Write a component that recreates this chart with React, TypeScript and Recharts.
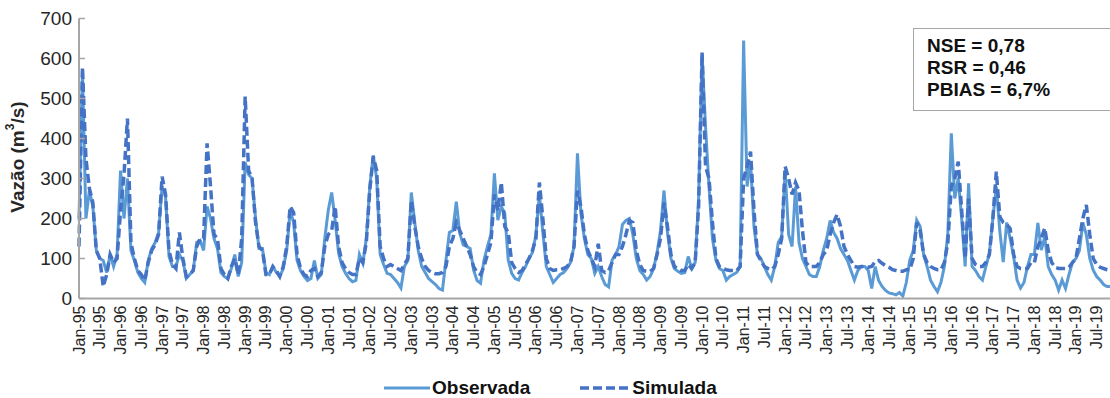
import { LineChart, Line, XAxis, YAxis } from 'recharts';

const monthNames = ['Jan', 'Feb', 'Mar', 'Apr', 'May', 'Jun', 'Jul', 'Aug', 'Sep', 'Oct', 'Nov', 'Dec'];
const years = ['95', '96', '97', '98', '99', '00', '01', '02', '03', '04', '05', '06', '07',
  '08', '09', '10', '11', '12', '13', '14', '15', '16', '17', '18', '19'];

// monthly flow (m3/s), one row per year, Jan..Dec
const observada = [
  200, 570, 200, 270, 230, 120, 100, 95, 65, 110, 80, 110, // 95
  320, 200, 300, 120, 95, 65, 50, 40, 95, 125, 140, 165,
  280, 255, 105, 80, 80, 110, 95, 50, 60, 70, 140, 145,
  120, 230, 200, 150, 125, 65, 55, 50, 75, 110, 55, 90,
  340, 310, 300, 200, 125, 125, 65, 60, 80, 65, 55, 75,
  120, 220, 190, 95, 70, 55, 45, 50, 95, 50, 60, 150, // 00
  220, 265, 195, 113, 80, 63, 50, 42, 45, 110, 88, 150,
  280, 358, 300, 110, 85, 63, 60, 50, 40, 26, 80, 95,
  265, 190, 120, 80, 65, 50, 42, 35, 25, 21, 95, 165,
  170, 242, 163, 134, 130, 125, 71, 45, 38, 96, 130, 160,
  313, 196, 230, 213, 96, 63, 50, 46, 65, 80, 100, 115, // 05
  160, 260, 165, 80, 60, 40, 50, 60, 65, 75, 90, 130,
  363, 213, 150, 110, 100, 63, 80, 55, 35, 29, 96, 110,
  130, 185, 195, 200, 160, 100, 70, 60, 46, 55, 75, 115,
  170, 270, 165, 100, 75, 68, 63, 65, 105, 75, 90, 250,
  610, 430, 280, 150, 96, 75, 70, 46, 55, 60, 65, 80, // 10
  645, 280, 340, 180, 110, 100, 80, 60, 46, 80, 140, 155,
  320, 160, 130, 280, 140, 100, 80, 60, 55, 55, 80, 120,
  150, 195, 165, 150, 125, 110, 95, 70, 46, 70, 80, 80,
  70, 25, 80, 45, 30, 20, 14, 12, 9, 15, 6, 40,
  96, 120, 196, 180, 110, 80, 46, 30, 17, 40, 80, 163, // 15
  413, 250, 300, 200, 80, 288, 80, 70, 55, 46, 80, 113,
  200, 280, 170, 91, 190, 150, 105, 46, 26, 40, 80, 110,
  110, 189, 121, 154, 80, 60, 46, 21, 46, 25, 60, 90,
  100, 120, 190, 160, 100, 71, 55, 46, 35, 30, 30, 30,
];

const simulada = [
  130, 578, 350, 275, 240, 120, 100, 30, 60, 110, 90, 100, // 95
  220, 310, 450, 140, 100, 70, 60, 45, 90, 120, 135, 160,
  305, 260, 120, 85, 75, 165, 100, 55, 60, 70, 130, 150,
  150, 388, 280, 160, 150, 75, 60, 50, 80, 100, 60, 150,
  505, 320, 300, 190, 130, 120, 60, 60, 80, 70, 55, 80,
  130, 230, 215, 110, 75, 60, 55, 70, 75, 55, 65, 130, // 00
  160, 170, 230, 130, 90, 75, 65, 60, 60, 100, 90, 140,
  270, 355, 320, 130, 100, 80, 85, 80, 75, 70, 85, 100,
  245, 180, 130, 100, 80, 70, 65, 62, 62, 65, 80, 130,
  150, 190, 170, 150, 130, 110, 80, 65, 60, 80, 110, 140,
  260, 220, 290, 180, 165, 90, 75, 65, 70, 85, 100, 120, // 05
  150, 290, 200, 100, 75, 70, 72, 72, 75, 80, 90, 130,
  270, 230, 160, 120, 100, 80, 137, 70, 65, 70, 90, 110,
  110, 130, 160, 195, 190, 120, 85, 70, 68, 68, 75, 110,
  150, 240, 180, 110, 80, 75, 70, 70, 85, 75, 90, 230,
  615, 330, 300, 190, 100, 80, 75, 72, 70, 70, 70, 80, // 10
  300, 330, 367, 220, 110, 95, 80, 75, 72, 80, 110, 150,
  330, 300, 260, 290, 270, 170, 90, 80, 80, 80, 90, 110,
  120, 160, 190, 210, 180, 130, 110, 95, 80, 78, 80, 80,
  78, 80, 92, 95, 88, 82, 78, 72, 70, 68, 68, 72,
  72, 100, 190, 170, 110, 90, 80, 75, 72, 72, 90, 140, // 15
  280, 300, 342, 220, 100, 250, 100, 85, 80, 80, 90, 110,
  200, 317, 205, 190, 185, 175, 110, 80, 75, 75, 75, 90,
  90, 130, 150, 176, 120, 90, 78, 75, 75, 75, 78, 90,
  100, 150, 200, 234, 160, 100, 85, 78, 75, 72, 70, 70,
];

const yTicks = [0, 100, 200, 300, 400, 500, 600, 700];

const categories = years.flatMap((y) => monthNames.map((m) => `${m}-${y}`));
const data = categories.map((mes, i) => ({ mes, observada: observada[i], simulada: simulada[i] }));

const FONT = '"Liberation Sans", Arial, sans-serif';
const AXIS = '#a6a6a6';

const YTick = ({ x, y, payload }: any) => (
  <g>
    <line x1={x} x2={x + 6} y1={y} y2={y} stroke={AXIS} strokeWidth={1.5} />
    <text x={x - 7} y={y} textAnchor="end" dominantBaseline="central" fontSize={19} fill="#262626" fontFamily={FONT}>
      {payload.value}
    </text>
  </g>
);

const XTick = ({ x, y, payload }: any) => (
  <g transform={`translate(${x},${y + 7})`}>
    <text transform="rotate(-90)" textAnchor="end" dominantBaseline="central" fontSize={16} fill="#262626" fontFamily={FONT}>
      {payload.value}
    </text>
  </g>
);

export default function App() {
  return (
    <div style={{ position: 'absolute', left: 0, top: 0, width: 1110, height: 398, overflow: 'hidden', background: '#fff' }}>
      <LineChart width={1130} height={398} data={data} margin={{ top: 18.5, right: 16, left: 0, bottom: 0 }}>
        <XAxis
          dataKey="mes"
          interval={5}
          height={99.5}
          tickLine={false}
          tickSize={0}
          tickMargin={0}
          tick={<XTick />}
          stroke={AXIS}
          strokeWidth={2}
        />
        <XAxis xAxisId="top" dataKey="mes" orientation="top" height={0} tick={false} tickLine={false} stroke={AXIS} strokeWidth={2} />
        <YAxis
          domain={[0, 700]}
          ticks={yTicks}
          width={79}
          tickLine={false}
          tickSize={0}
          tickMargin={0}
          tick={<YTick />}
          stroke={AXIS}
          strokeWidth={2}
          label={{
            content: () => (
              <text x={17} y={157} transform="rotate(-90 17 157)" textAnchor="middle" dominantBaseline="central"
                fontSize={19} fontWeight="bold" fill="#262626" fontFamily={FONT}>
                Vazão (m<tspan fontSize={12} dy={-7}>3</tspan><tspan dy={7}>/s)</tspan>
              </text>
            ),
          }}
        />
        <Line type="linear" dataKey="observada" stroke="#5b9bd5" strokeWidth={3} dot={false} isAnimationActive={false} />
        <Line type="linear" dataKey="simulada" stroke="#4472c4" strokeWidth={3.5} strokeDasharray="9 4" dot={false} isAnimationActive={false} />
      </LineChart>

      <div style={{
        position: 'absolute', left: 913, top: 28, width: 300, height: 83, border: `1.5px solid ${AXIS}`,
        background: '#fff', boxSizing: 'border-box', padding: '6px 0 0 13px',
        fontFamily: FONT, fontWeight: 'bold', fontSize: 19, lineHeight: '22px', color: '#111',
      }}>
        <div>NSE = 0,78</div>
        <div>RSR = 0,46</div>
        <div>PBIAS = 6,7%</div>
      </div>

      <div style={{
        position: 'absolute', left: 384, top: 377, display: 'flex', alignItems: 'center',
        fontFamily: FONT, fontWeight: 'bold', fontSize: 19, color: '#111', whiteSpace: 'nowrap',
      }}>
        <svg width={48} height={10}><line x1={0} x2={46} y1={5} y2={5} stroke="#5b9bd5" strokeWidth={3} /></svg>
        <span style={{ marginRight: 50 }}>Observada</span>
        <svg width={52} height={10}><line x1={0} x2={50} y1={5} y2={5} stroke="#4472c4" strokeWidth={3.5} strokeDasharray="9 4" /></svg>
        <span>Simulada</span>
      </div>
    </div>
  );
}
